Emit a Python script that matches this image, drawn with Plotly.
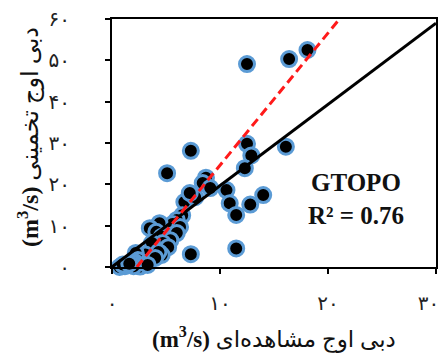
import plotly.graph_objects as go

# Observed (x) vs estimated (y) peak discharge, m3/s
obs = [12.5, 16.4, 18.1,
       7.3, 12.5, 12.9, 16.1, 12.3,
       5.1, 8.7, 8.4, 9.1,
       10.6, 10.9, 11.5, 12.8, 14.0,
       7.3, 11.5,
       6.7, 7.7, 7.2,
       6.5, 6.0, 5.6, 6.3, 4.4, 3.5, 4.1, 5.6, 6.0, 4.6, 5.4, 4.7, 3.7, 5.2,
       4.4, 4.6, 4.3, 3.1, 2.2, 2.4, 2.1, 1.9, 3.3, 4.0, 1.3, 1.2, 0.7, 2.6,
       2.0, 3.3, 1.0, 1.6]
est = [49.1, 50.3, 52.5,
       28.1, 29.8, 27.0, 29.1, 23.9,
       22.7, 21.6, 20.3, 19.1,
       18.6, 15.4, 12.6, 15.1, 17.4,
       3.1, 4.5,
       15.7, 16.9, 17.9,
       12.5, 11.4, 10.4, 9.7, 10.6, 9.4, 8.5, 7.7, 8.2, 7.3, 6.5, 5.8, 5.8, 4.8,
       3.4, 2.9, 3.6, 3.0, 3.4, 1.7, 1.2, 1.0, 1.0, 2.2, 0.5, 0.2, 0.0, 0.1,
       0.2, 0.5, 0.6, 0.8]

# reference lines
black_x = [0, 30]
black_y = [0, 59]
red_x = [2.3, 22.0]
red_y = [0, 63.0]

x_tickvals = [0, 10, 20, 30]
x_ticktext = ["۰", "۱۰", "۲۰", "۳۰&nbsp;&nbsp;&nbsp;"]
y_tickvals = [0, 10, 20, 30, 40, 50, 60]
y_ticktext = ["۰", "۱۰", "۲۰", "۳۰", "۴۰", "۵۰", "۶۰"]

x_title = "<b>(m<sup>3</sup>/s)</b> دبی اوج مشاهده‌ای"
y_title = "<b>(m<sup>3</sup>/s)</b> دبی اوج تخمینی"
label_name = "GTOPO"
label_r2 = "R² = 0.76"

FONT = "Liberation Serif, DejaVu Sans, serif"

fig = go.Figure()
fig.add_trace(go.Scatter(
    x=obs, y=est, mode="markers",
    marker=dict(size=15, color="black", line=dict(color="#5B9BD5", width=3)),
    showlegend=False, cliponaxis=False))
fig.add_trace(go.Scatter(
    x=black_x, y=black_y, mode="lines",
    line=dict(color="black", width=3), showlegend=False))
fig.add_trace(go.Scatter(
    x=red_x, y=red_y, mode="lines",
    line=dict(color="#FF1A1A", width=3, dash="9px,5px"), showlegend=False))

axis_common = dict(showgrid=False, zeroline=False, showline=True, mirror=True,
                   linecolor="black", linewidth=2, ticks="outside",
                   ticklen=5, tickwidth=1.5, tickcolor="black", automargin=False,
                   ticklabeloverflow="allow",
                   tickfont=dict(family=FONT, size=20, color="#222"))
fig.update_xaxes(range=[0, 30], tickvals=x_tickvals, ticktext=x_ticktext,
                 ticklabelstandoff=12, **axis_common)
fig.update_yaxes(range=[0, 60], tickvals=y_tickvals, ticktext=y_ticktext,
                 ticklabelstandoff=31, **axis_common)

fig.add_annotation(text=x_title, xref="paper", yref="paper", x=0.5, y=0,
                   xanchor="center", yanchor="middle", yshift=-71, showarrow=False,
                   font=dict(family=FONT, size=23, color="#111"))
fig.add_annotation(text=y_title, xref="paper", yref="paper", x=0, y=0.5,
                   xanchor="center", yanchor="middle", xshift=-84, yshift=6,
                   textangle=-90, showarrow=False,
                   font=dict(family=FONT, size=24, color="#111"))
fig.add_annotation(text="<b>" + label_name + "</b>", xref="paper", yref="paper",
                   x=0.754, y=0, xanchor="center", yanchor="middle", yshift=85,
                   showarrow=False, font=dict(family=FONT, size=25, color="#111"))
fig.add_annotation(text="<b>" + label_r2 + "</b>", xref="paper", yref="paper",
                   x=0.754, y=0, xanchor="center", yanchor="middle", yshift=52,
                   showarrow=False, font=dict(family=FONT, size=25, color="#111"))

fig.update_layout(width=439, height=358, margin=dict(l=112, r=3, t=19, b=91),
                  plot_bgcolor="white", paper_bgcolor="white")
fig.write_html("out.html", config={"displayModeBar": False},
               post_script="document.body.style.margin='0';document.body.style.overflow='hidden';")
